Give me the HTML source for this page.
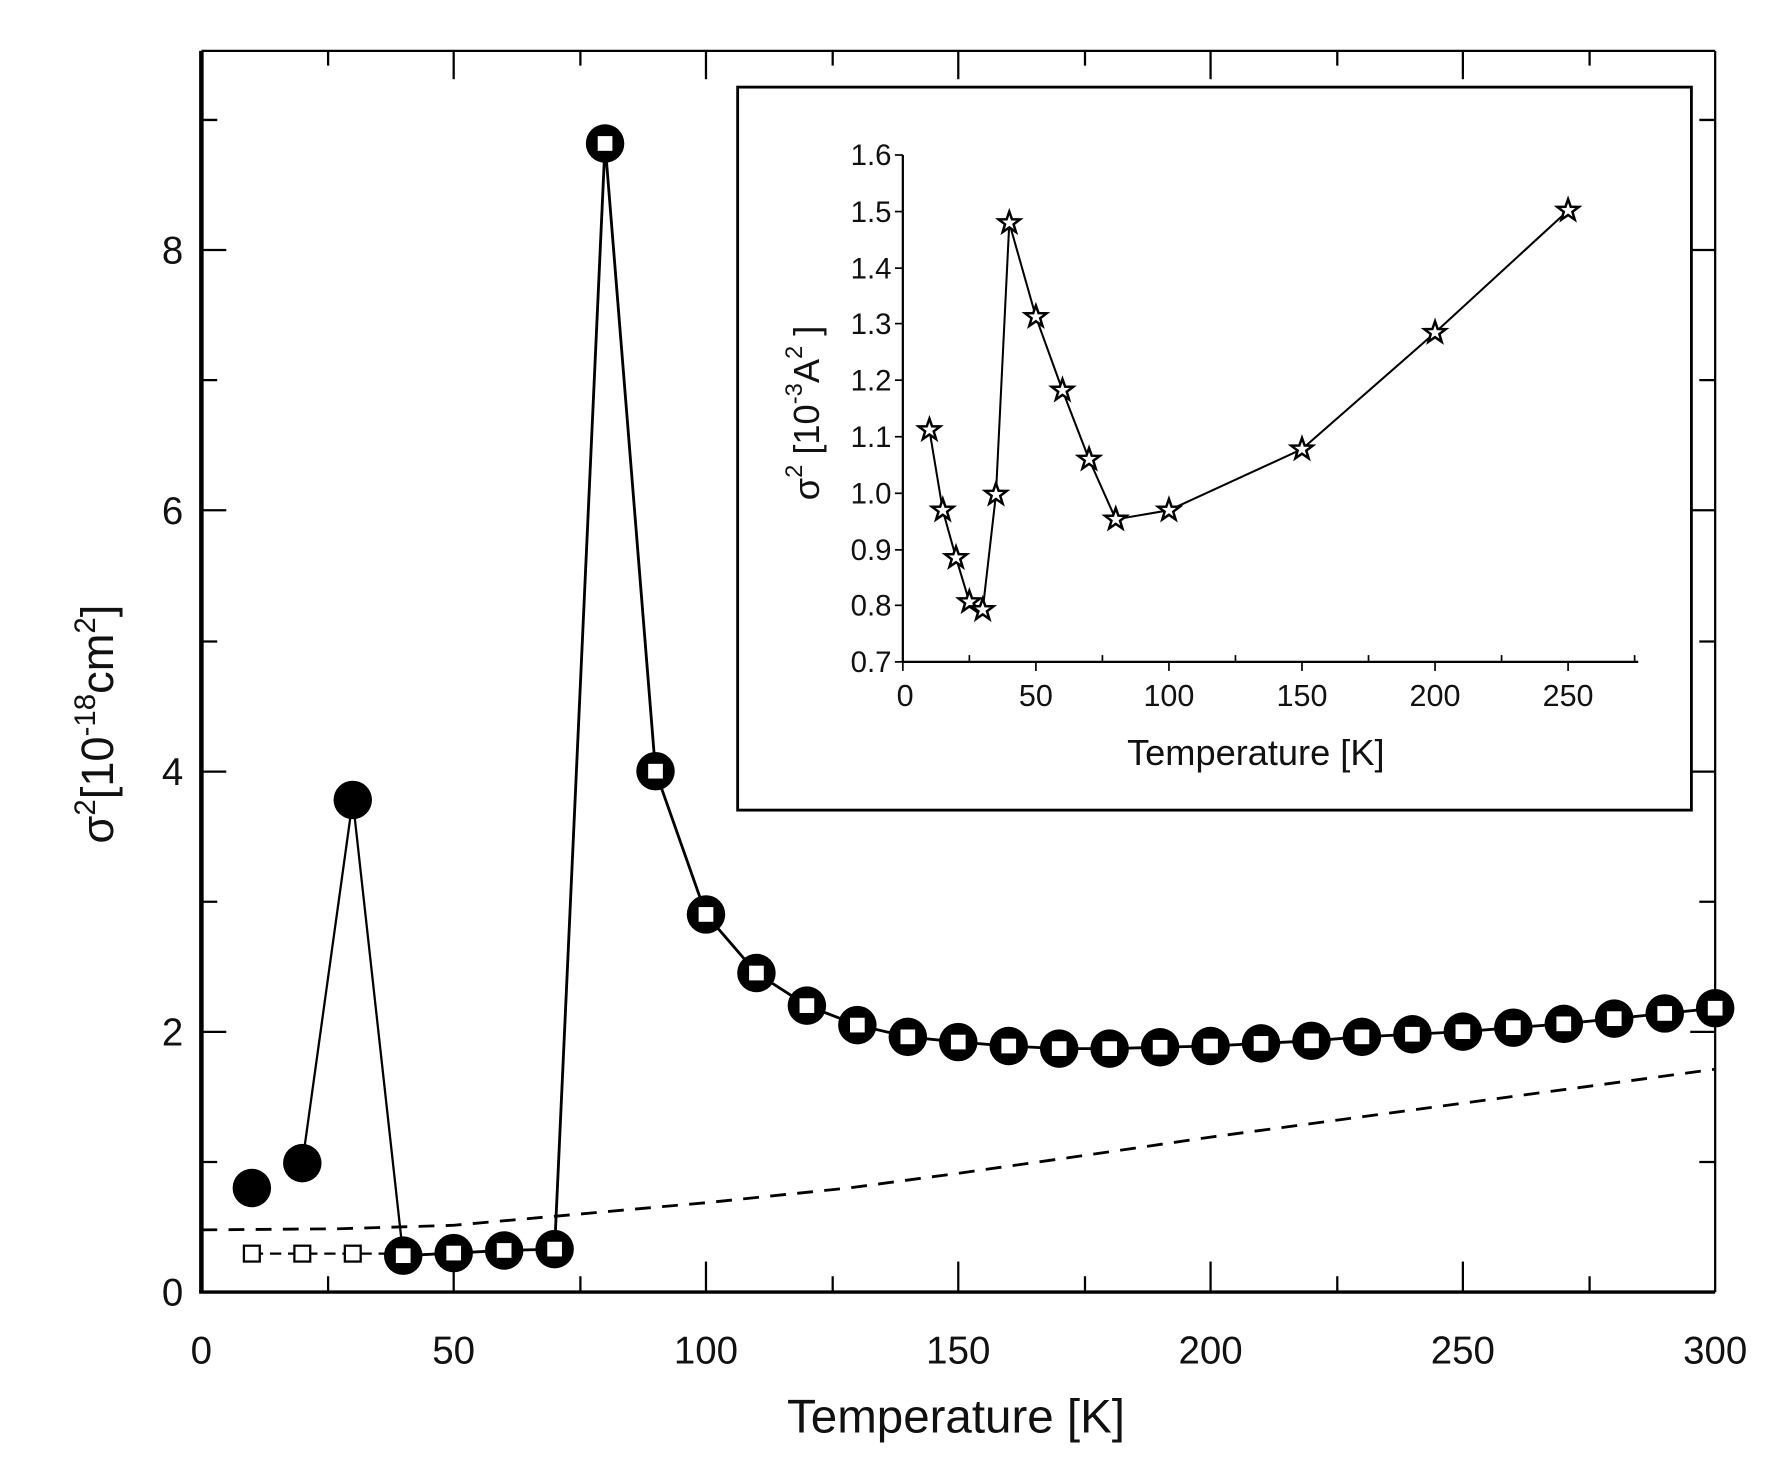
<!DOCTYPE html>
<html><head><meta charset="utf-8"><style>
html,body{margin:0;padding:0;background:#fff;}
svg{display:block;}
text{font-family:"Liberation Sans",sans-serif;fill:#111;}
</style></head><body>
<svg width="1774" height="1472" viewBox="0 0 1568 1301" preserveAspectRatio="none">
<defs>
<g id="ring"><circle r="17" fill="#000"/><rect x="-6.5" y="-6.5" width="13" height="13" fill="#fff"/></g>
<path id="star" d="M0,-10 L2.35,-3.24 L9.51,-3.09 L3.8,1.24 L5.88,8.09 L0,4 L-5.88,8.09 L-3.8,1.24 L-9.51,-3.09 L-2.35,-3.24 Z" fill="#fff" stroke="#000" stroke-width="2.2"/>
</defs>
<line x1="178" y1="45" x2="178" y2="1142" stroke="#000" stroke-width="4"/>
<line x1="176" y1="1142" x2="1516" y2="1142" stroke="#000" stroke-width="3"/>
<line x1="178" y1="45" x2="1516" y2="45" stroke="#000" stroke-width="2"/>
<line x1="1516" y1="45" x2="1516" y2="1142" stroke="#000" stroke-width="2"/>
<g stroke="#000" stroke-width="2">
<line x1="290" y1="1142" x2="290" y2="1128"/><line x1="401" y1="1142" x2="401" y2="1115"/>
<line x1="513" y1="1142" x2="513" y2="1128"/><line x1="624" y1="1142" x2="624" y2="1115"/>
<line x1="736" y1="1142" x2="736" y2="1128"/><line x1="847" y1="1142" x2="847" y2="1115"/>
<line x1="959" y1="1142" x2="959" y2="1128"/><line x1="1070" y1="1142" x2="1070" y2="1115"/>
<line x1="1182" y1="1142" x2="1182" y2="1128"/><line x1="1293" y1="1142" x2="1293" y2="1115"/>
<line x1="1405" y1="1142" x2="1405" y2="1128"/>
<line x1="290" y1="45" x2="290" y2="58"/><line x1="401" y1="45" x2="401" y2="70"/>
<line x1="513" y1="45" x2="513" y2="58"/><line x1="624" y1="45" x2="624" y2="70"/>
<line x1="736" y1="45" x2="736" y2="58"/><line x1="847" y1="45" x2="847" y2="70"/>
<line x1="959" y1="45" x2="959" y2="58"/><line x1="1070" y1="45" x2="1070" y2="70"/>
<line x1="1182" y1="45" x2="1182" y2="58"/><line x1="1293" y1="45" x2="1293" y2="70"/>
<line x1="1405" y1="45" x2="1405" y2="58"/>
<line x1="178" y1="1027" x2="192" y2="1027"/><line x1="178" y1="912" x2="200" y2="912"/>
<line x1="178" y1="797" x2="192" y2="797"/><line x1="178" y1="682" x2="200" y2="682"/>
<line x1="178" y1="567" x2="192" y2="567"/><line x1="178" y1="451" x2="200" y2="451"/>
<line x1="178" y1="336" x2="192" y2="336"/><line x1="178" y1="221" x2="200" y2="221"/>
<line x1="178" y1="106" x2="192" y2="106"/>
<line x1="1516" y1="1027" x2="1502" y2="1027"/><line x1="1516" y1="912" x2="1494" y2="912"/>
<line x1="1516" y1="797" x2="1502" y2="797"/><line x1="1516" y1="682" x2="1494" y2="682"/>
<line x1="1516" y1="567" x2="1502" y2="567"/><line x1="1516" y1="451" x2="1494" y2="451"/>
<line x1="1516" y1="336" x2="1502" y2="336"/><line x1="1516" y1="221" x2="1494" y2="221"/>
<line x1="1516" y1="106" x2="1502" y2="106"/>
</g>
<g font-size="34" text-anchor="middle">
<text x="178" y="1205">0</text><text x="401" y="1205">50</text><text x="624" y="1205">100</text>
<text x="847" y="1205">150</text><text x="1070" y="1205">200</text><text x="1293" y="1205">250</text><text x="1516" y="1205">300</text>
</g>
<g font-size="34" text-anchor="end">
<text x="162" y="1154">0</text><text x="162" y="924">2</text><text x="162" y="694">4</text>
<text x="162" y="463">6</text><text x="162" y="233">8</text>
</g>
<text x="845" y="1266" font-size="42" text-anchor="middle">Temperature [K]</text>
<text transform="translate(100,640) rotate(-90)" font-size="40" text-anchor="middle">σ<tspan dy="-16" font-size="26">2</tspan><tspan dy="16">[10</tspan><tspan dy="-16" font-size="26">-18</tspan><tspan dy="16">cm</tspan><tspan dy="-16" font-size="26">2</tspan><tspan dy="16">]</tspan></text>

<polyline points="178,1087 300,1086 400,1083 490,1075 624,1063 750,1050 847,1037 960,1021 1070,1005 1182,990 1293,975 1405,960 1516,945" fill="none" stroke="#000" stroke-width="2.5" stroke-dasharray="14,10"/>
<polyline points="267.2,1028 311.8,707 356.4,1110" fill="none" stroke="#000" stroke-width="2"/>
<polyline points="222.6,1108 356.4,1108" fill="none" stroke="#000" stroke-width="2" stroke-dasharray="10,6"/>
<polyline points="356.4,1109.8 401,1107.5 445.6,1105.2 490.2,1104 534.8,126.8 579.4,681.6 624,808.2 668.6,860 713.2,888.8 757.8,906 802.4,916.4 847,921 891.6,924.5 936.2,926.8 980.8,926.8 1025.4,925.6 1070,924.5 1114.6,922.2 1159.2,919.9 1203.8,916.4 1248.4,914.1 1293,911.8 1337.6,908.3 1382.2,904.9 1426.8,900.3 1471.4,895.7 1516,891.1" fill="none" stroke="#000" stroke-width="2.5"/>
<circle cx="222.6" cy="1050" r="17" fill="#000"/>
<circle cx="267.2" cy="1028" r="17" fill="#000"/>
<circle cx="311.8" cy="707" r="17" fill="#000"/>
<g fill="#fff" stroke="#000" stroke-width="2">
<rect x="215.6" y="1101" width="14" height="14"/><rect x="260.2" y="1101" width="14" height="14"/><rect x="304.8" y="1101" width="14" height="14"/>
</g>
<use href="#ring" x="356.4" y="1109.8"/><use href="#ring" x="401" y="1107.5"/><use href="#ring" x="445.6" y="1105.2"/>
<use href="#ring" x="490.2" y="1104"/><use href="#ring" x="534.8" y="126.8"/><use href="#ring" x="579.4" y="681.6"/>
<use href="#ring" x="624" y="808.2"/><use href="#ring" x="668.6" y="860"/><use href="#ring" x="713.2" y="888.8"/>
<use href="#ring" x="757.8" y="906"/><use href="#ring" x="802.4" y="916.4"/><use href="#ring" x="847" y="921"/>
<use href="#ring" x="891.6" y="924.5"/><use href="#ring" x="936.2" y="926.8"/><use href="#ring" x="980.8" y="926.8"/>
<use href="#ring" x="1025.4" y="925.6"/><use href="#ring" x="1070" y="924.5"/><use href="#ring" x="1114.6" y="922.2"/>
<use href="#ring" x="1159.2" y="919.9"/><use href="#ring" x="1203.8" y="916.4"/><use href="#ring" x="1248.4" y="914.1"/>
<use href="#ring" x="1293" y="911.8"/><use href="#ring" x="1337.6" y="908.3"/><use href="#ring" x="1382.2" y="904.9"/>
<use href="#ring" x="1426.8" y="900.3"/><use href="#ring" x="1471.4" y="895.7"/><use href="#ring" x="1516" y="891.1"/>

<rect x="652" y="77" width="843" height="639" fill="#fff" stroke="#000" stroke-width="2.5"/>
<line x1="798" y1="137" x2="798" y2="585" stroke="#000" stroke-width="2"/>
<line x1="798" y1="585" x2="1448" y2="585" stroke="#000" stroke-width="2"/>
<g stroke="#000" stroke-width="1.5">
<line x1="791" y1="585" x2="798" y2="585"/><line x1="791" y1="535" x2="798" y2="535"/><line x1="791" y1="486" x2="798" y2="486"/>
<line x1="791" y1="436" x2="798" y2="436"/><line x1="791" y1="386" x2="798" y2="386"/><line x1="791" y1="336" x2="798" y2="336"/>
<line x1="791" y1="286" x2="798" y2="286"/><line x1="791" y1="237" x2="798" y2="237"/><line x1="791" y1="187" x2="798" y2="187"/>
<line x1="791" y1="137" x2="798" y2="137"/>
<line x1="798" y1="585" x2="798" y2="593"/><line x1="915.6" y1="585" x2="915.6" y2="593"/><line x1="1033.2" y1="585" x2="1033.2" y2="593"/>
<line x1="1150.8" y1="585" x2="1150.8" y2="593"/><line x1="1268.4" y1="585" x2="1268.4" y2="593"/><line x1="1386" y1="585" x2="1386" y2="593"/>
<line x1="856.8" y1="585" x2="856.8" y2="579"/><line x1="974.4" y1="585" x2="974.4" y2="579"/><line x1="1092" y1="585" x2="1092" y2="579"/>
<line x1="1209.6" y1="585" x2="1209.6" y2="579"/><line x1="1327.2" y1="585" x2="1327.2" y2="579"/><line x1="1444.8" y1="585" x2="1444.8" y2="579"/>
</g>
<g font-size="26" text-anchor="end">
<text x="788" y="594">0.7</text><text x="788" y="544">0.8</text><text x="788" y="495">0.9</text>
<text x="788" y="445">1.0</text><text x="788" y="395">1.1</text><text x="788" y="345">1.2</text>
<text x="788" y="295">1.3</text><text x="788" y="246">1.4</text><text x="788" y="196">1.5</text><text x="788" y="146">1.6</text>
</g>
<g font-size="27" text-anchor="middle">
<text x="800" y="624">0</text><text x="915.6" y="624">50</text><text x="1033.2" y="624">100</text>
<text x="1150.8" y="624">150</text><text x="1268.4" y="624">200</text><text x="1386" y="624">250</text>
</g>
<text x="1110" y="676" font-size="32" text-anchor="middle">Temperature [K]</text>
<text transform="translate(724,365) rotate(-90)" font-size="32" text-anchor="middle">σ<tspan dy="-15" font-size="21">2</tspan><tspan dy="15"> [10</tspan><tspan dy="-15" font-size="21">-3</tspan><tspan dy="15">A</tspan><tspan dy="-15" font-size="21">2</tspan><tspan dy="15"> ]</tspan></text>
<polyline points="821.5,380 833.3,451 845,493 856.8,532 868.6,539 880.3,437 892.1,197 915.6,280 939.1,345 962.6,406 986.2,459 1033.2,451 1150.8,397 1268.4,294 1386,186" fill="none" stroke="#000" stroke-width="1.8"/>
<use href="#star" x="821.5" y="380"/>
<use href="#star" x="833.3" y="451"/>
<use href="#star" x="845" y="493"/>
<use href="#star" x="856.8" y="532"/>
<use href="#star" x="868.6" y="539"/>
<use href="#star" x="880.3" y="437"/>
<use href="#star" x="892.1" y="197"/>
<use href="#star" x="915.6" y="280"/>
<use href="#star" x="939.1" y="345"/>
<use href="#star" x="962.6" y="406"/>
<use href="#star" x="986.2" y="459"/>
<use href="#star" x="1033.2" y="451"/>
<use href="#star" x="1150.8" y="397"/>
<use href="#star" x="1268.4" y="294"/>
<use href="#star" x="1386" y="186"/>
</svg>
</body></html>
